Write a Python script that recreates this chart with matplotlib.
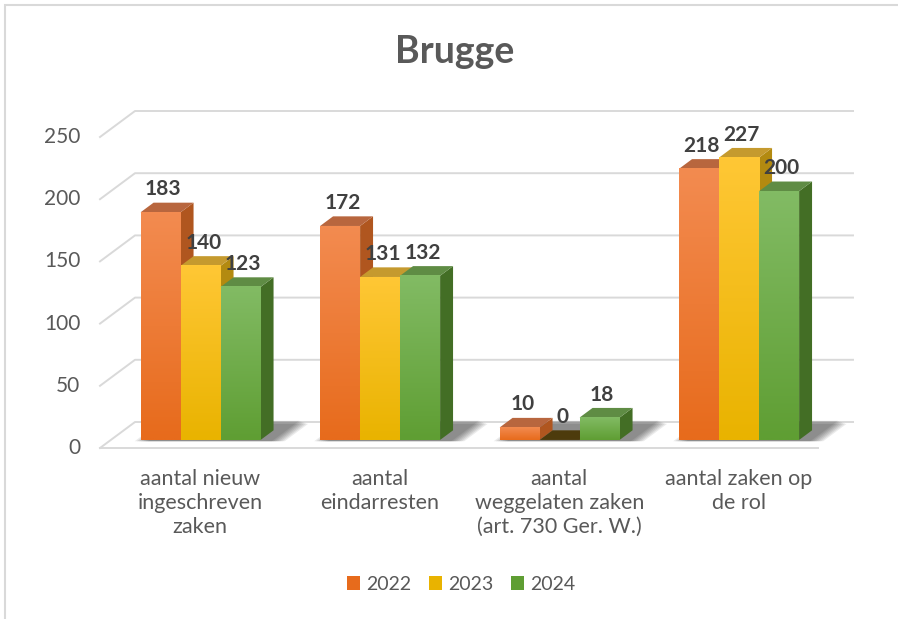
import matplotlib.pyplot as plt
import numpy as np
from matplotlib.patches import Polygon, Rectangle, Patch

categories = ['aantal nieuw\ningeschreven\nzaken', 'aantal\neindarresten',
              'aantal\nweggelaten zaken\n(art. 730 Ger. W.)', 'aantal zaken op\nde rol']
years = ['2022', '2023', '2024']
v2022 = [183, 172, 10, 218]
v2023 = [140, 131, 0, 227]
v2024 = [123, 132, 18, 200]
yticks = [0, 50, 100, 150, 200, 250]

# kleuren: voorkant boven / onder, zijkant, bovenkant
front_top = ['#F38B50', '#FFC735', '#82BB64']
front_bot = ['#E76B1C', '#E9B300', '#5F9E33']
side_col = ['#B0561F', '#B38A10', '#436E25']
top_col = ['#B8663E', '#C59A2E', '#5F8C44']

plt.rcParams['font.family'] = ['Lato', 'DejaVu Sans']
txt = '#595959'

fig = plt.figure(figsize=(8.98, 6.19), dpi=100)
ax = fig.add_axes([0, 0, 1, 1])
ax.axis('off')

DX, DY = 35 / 179.5, 26 / 1.244   # diepte van de vloer
f0, f1 = 0.31, 0.68               # voor- en achterkant van de balken
bw = 40 / 179.5
ncat = len(categories)
grid = '#d9d9d9'

# achterwand en rasterlijnen
for v in yticks:
    ax.plot([0, DX, ncat + DX], [v, v + DY, v + DY], color=grid, lw=1.4, zorder=1)
    ax.text(-0.11, v, str(v), ha='right', va='center', fontsize=15, color=txt)
ax.plot([0, ncat], [0, 0], color=grid, lw=1.4, zorder=1)

series = [v2022, v2023, v2024]

for i in range(ncat):
    gx = i + 0.5 + f0 * DX - 1.5 * bw
    # schaduw op de vloer
    for k in range(7):
        e = 0.012 * (7 - k)
        sx0, sx1 = gx - e, gx + 3 * bw + e
        d0, d1 = f0 - 0.05, f1 + 0.25 + 0.02 * k
        sh = Polygon([(sx0 + d0 * DX, d0 * DY), (sx1 + d0 * DX, d0 * DY),
                      (sx1 + d1 * DX, d1 * DY), (sx0 + d1 * DX, d1 * DY)],
                     closed=True, fc='#000000', ec='none', alpha=0.08, zorder=2)
        ax.add_patch(sh)
    for j, vals in enumerate(series):
        v = vals[i]
        x0 = gx + j * bw
        x1 = x0 + bw
        yb = f0 * DY
        yt = v + f0 * DY
        ddx, ddy = (f1 - f0) * DX, (f1 - f0) * DY
        z = 3 + j
        # zijkant
        ax.add_patch(Polygon([(x1, yb), (x1 + ddx, yb + ddy), (x1 + ddx, yt + ddy), (x1, yt)],
                             closed=True, fc=side_col[j], ec='none', zorder=z))
        # bovenkant
        tc = '#4d3b0c' if v == 0 else top_col[j]
        ax.add_patch(Polygon([(x0, yt), (x1, yt), (x1 + ddx, yt + ddy), (x0 + ddx, yt + ddy)],
                             closed=True, fc=tc, ec='none', zorder=z))
        # voorkant met kleurverloop
        if v > 0:
            c0 = np.array(plt.matplotlib.colors.to_rgb(front_top[j]))
            c1 = np.array(plt.matplotlib.colors.to_rgb(front_bot[j]))
            t = np.linspace(0, 1, 64)[:, None]
            grad = (c0 * (1 - t) + c1 * t)[:, None, :]
            ax.imshow(grad, extent=[x0, x1, yb, yt], aspect='auto', origin='upper',
                      interpolation='bilinear', zorder=z + 0.1)
        ax.text(x0 + bw / 2 + 0.2 * ddx, yt + 18.5, str(v), ha='center', va='center',
                fontsize=15, fontweight='bold', color='#404040', zorder=10)
    ax.text(i + 0.5 + 0.3 * DX, -16.5, categories[i], ha='center', va='top', fontsize=15.5,
            color=txt, linespacing=1.27)

ax.set_xlim(-100 / 179.5, 798 / 179.5)
ax.set_ylim(-171 / 1.244, 448 / 1.244)

fig.text(455 / 898, 1 - 52 / 619, 'Brugge', ha='center', va='center', fontsize=27,
         fontweight='bold', color=txt)

handles = [Patch(facecolor=front_bot[j], label=years[j]) for j in range(3)]
fig.legend(handles=handles, loc='center', bbox_to_anchor=(461 / 898, 1 - 584 / 619), ncol=3,
           frameon=False, fontsize=14, handlelength=0.7, handleheight=0.7,
           handletextpad=0.3, columnspacing=0.9, labelcolor=txt)

fig.patches.append(Rectangle((5 / 898, -0.05), 1.1, 1.05 - 5 / 619, transform=fig.transFigure,
                             fill=False, ec='#d9d9d9', lw=1.5))

fig.savefig('out.png', dpi=100, facecolor='white')
